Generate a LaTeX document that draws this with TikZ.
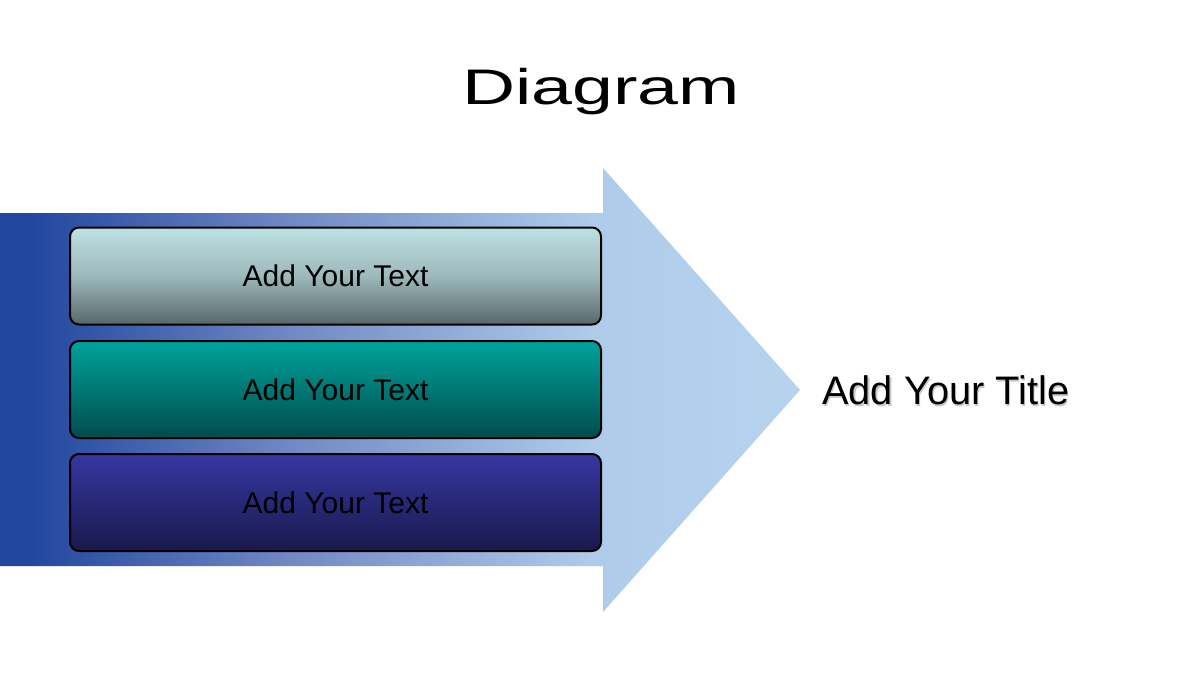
\documentclass[tikz,border=0pt]{standalone}
\usepackage{fontspec}
\setmainfont{Liberation Sans}
\usetikzlibrary{shadings}
\definecolor{arrDark}{HTML}{22479F}
\definecolor{arrMid}{HTML}{7088C4}
\definecolor{arrLight}{HTML}{AECBEA}
\definecolor{arrHead}{HTML}{B6D3EE}
\pgfdeclarehorizontalshading{arrowshade}{100bp}{%
  color(0bp)=(arrDark); color(27bp)=(arrDark); color(43bp)=(arrMid);
  color(62bp)=(arrLight); color(75bp)=(arrHead); color(100bp)=(arrHead)}
\definecolor{boxAtop}{HTML}{BDE1E3}
\definecolor{boxAmid}{HTML}{9DB9BB}
\definecolor{boxAbot}{HTML}{576769}
\definecolor{boxBtop}{HTML}{00A39C}
\definecolor{boxBbot}{HTML}{004C4C}
\definecolor{boxCtop}{HTML}{3537A2}
\definecolor{boxCbot}{HTML}{19194C}
\tikzset{
  textbox/.style={draw=black, line width=2pt, rounded corners=9pt,
    minimum width=531pt, minimum height=97pt, inner sep=0pt,
    font=\fontsize{30}{35}\selectfont, text=black},
  titletext/.style={font=\fontsize{39.8}{46}\selectfont, text=black, anchor=west, inner sep=0pt},
}
\begin{document}
\begin{tikzpicture}[x=1pt,y=-1pt]
\useasboundingbox (0,0) rectangle (1200,680);
\fill[white] (0,0) rectangle (1200,680);
% title
\node[inner sep=0pt] (diag) at (601,92) {\fontsize{50}{58}\selectfont\scalebox{1.47}[1]{Diagram}};
% big arrow
\shade[shading=arrowshade] (0,213) -- (603,213) -- (603,168) -- (800,390) -- (603,612) -- (603,566) -- (0,566) -- cycle;
% boxes
\node[textbox, top color=boxAtop, bottom color=boxAbot, middle color=boxAmid] (b1) at (335.5,276) {Add Your Text};
\node[textbox, top color=boxBtop, bottom color=boxBbot] (b2) at (335.5,389.5) {Add Your Text};
\node[textbox, top color=boxCtop, bottom color=boxCbot] (b3) at (335.5,502.5) {Add Your Text};
% side title with soft shadow
\node[titletext, text=black!30, opacity=0.7] (tshadow) at (823.5,392) {Add Your Title};
\node[titletext] (title) at (822,390) {Add Your Title};
\end{tikzpicture}
\end{document}
